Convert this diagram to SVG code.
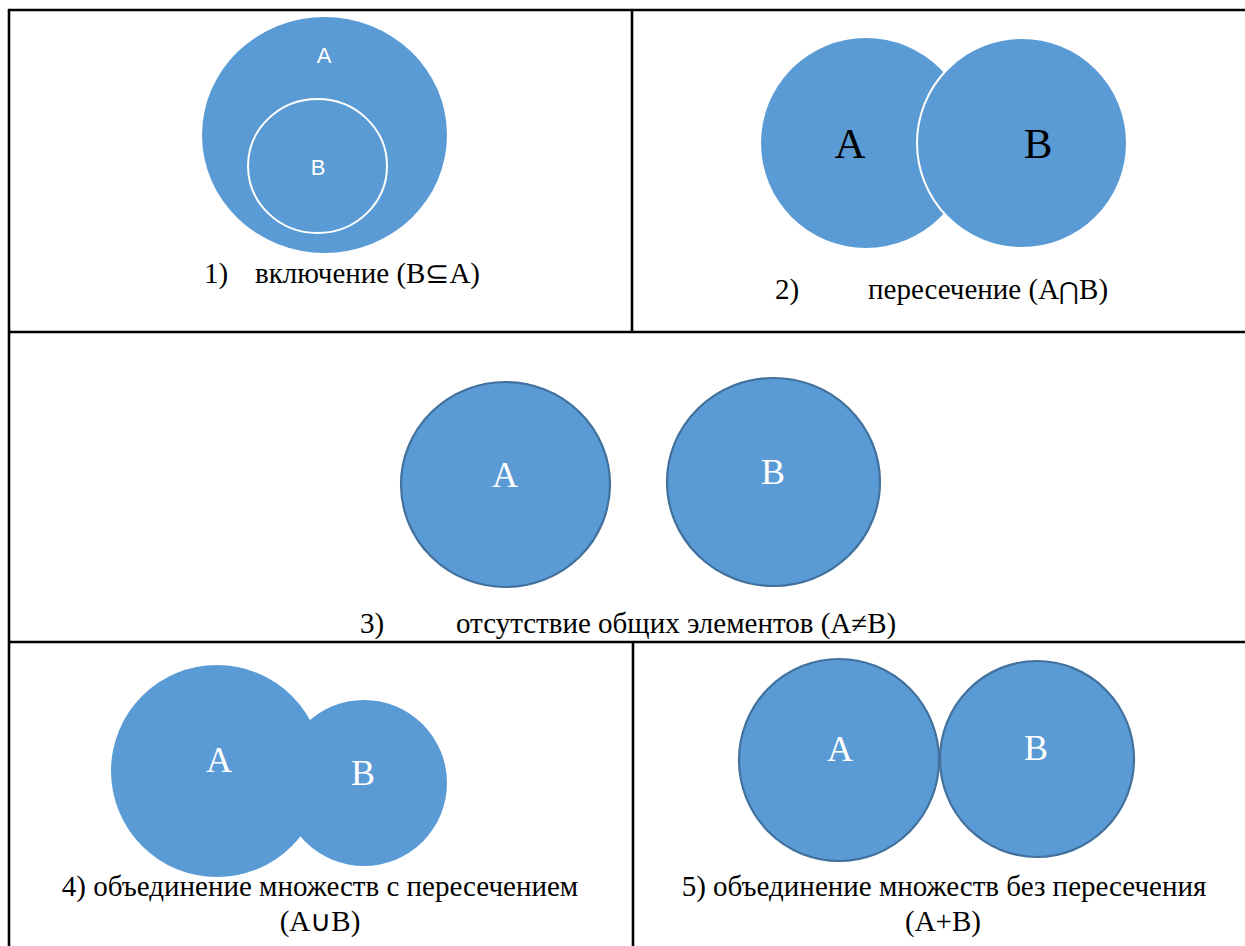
<svg xmlns="http://www.w3.org/2000/svg" width="1245" height="946" viewBox="0 0 1245 946">
<style>
.bg{fill:#ffffff}
.grid line{stroke:#000;stroke-width:2.6}
.set{fill:#5B9BD5}
.out{stroke:#41719C;stroke-width:2.2}
.wht{stroke:#ffffff;stroke-width:2}
.cap{font-family:"Liberation Serif","Times New Roman",serif;font-size:29px;fill:#000}
.sym{font-family:"DejaVu Serif","Liberation Serif",serif;font-size:24px}
.lblS{font-family:"Liberation Sans",Arial,sans-serif;font-size:22px;fill:#fff;text-anchor:middle}
.lblW{font-family:"Liberation Serif","Times New Roman",serif;font-size:36px;fill:#fff;text-anchor:middle}
.lblB{font-family:"Liberation Serif","Times New Roman",serif;font-size:43px;fill:#000;text-anchor:middle}
</style>
<rect class="bg" x="0" y="0" width="1245" height="946"/>
<g id="grid" class="grid">
<line x1="8" y1="10" x2="1245" y2="10"/>
<line x1="9" y1="9" x2="9" y2="946"/>
<line x1="632" y1="10" x2="632" y2="332"/>
<line x1="8" y1="332" x2="1245" y2="332"/>
<line x1="8" y1="642" x2="1245" y2="642"/>
<line x1="633" y1="642" x2="633" y2="946"/>
</g>
<g id="panel1">
<g id="p1-A"><ellipse class="set" cx="324.5" cy="135" rx="122.5" ry="118"/><text class="lblS" x="324" y="63">A</text></g>
<g id="p1-B"><ellipse class="set wht" cx="317.5" cy="166" rx="69.5" ry="67"/><text class="lblS" x="318" y="175">B</text></g>
<g id="p1-cap"><text class="cap" x="204" y="283">1)</text><text class="cap" x="255" y="283">включение (B⊆A)</text></g>
</g>
<g id="panel2">
<g id="p2-A"><circle class="set" cx="866" cy="143" r="105"/><text class="lblB" x="850" y="158">A</text></g>
<g id="p2-B"><circle class="set wht" cx="1022" cy="143" r="105"/><text class="lblB" x="1038" y="158">B</text></g>
<g id="p2-cap"><text class="cap" x="775" y="299">2)</text><text class="cap" x="868" y="299">пересечение (A<tspan class="sym">⋂</tspan>B)</text></g>
</g>
<g id="panel3">
<g id="p3-A"><ellipse class="set out" cx="505.5" cy="484.5" rx="104.5" ry="102.5"/><text class="lblW" x="505" y="487">A</text></g>
<g id="p3-B"><ellipse class="set out" cx="773.5" cy="482" rx="106.5" ry="104"/><text class="lblW" x="773" y="484">B</text></g>
<g id="p3-cap"><text class="cap" x="360" y="633">3)</text><text class="cap" x="456" y="633">отсутствие общих элементов (A≠B)</text></g>
</g>
<g id="panel4">
<g id="p4-A"><circle class="set" cx="217" cy="771" r="106"/><text class="lblW" x="219" y="772">A</text></g>
<g id="p4-B"><circle class="set" cx="364" cy="783" r="83"/><text class="lblW" x="363" y="785">B</text></g>
<g id="p4-cap"><text class="cap" x="320" y="896" text-anchor="middle">4) объединение множеств с пересечением</text><text class="cap" x="320" y="931" text-anchor="middle">(A∪B)</text></g>
</g>
<g id="panel5">
<g id="p5-A"><ellipse class="set out" cx="839" cy="760" rx="100" ry="101"/><text class="lblW" x="840" y="761">A</text></g>
<g id="p5-B"><ellipse class="set out" cx="1037" cy="759" rx="97" ry="98"/><text class="lblW" x="1036" y="760">B</text></g>
<g id="p5-cap"><text class="cap" x="944" y="896" text-anchor="middle">5) объединение множеств без пересечения</text><text class="cap" x="943" y="931" text-anchor="middle">(A+B)</text></g>
</g>
</svg>
